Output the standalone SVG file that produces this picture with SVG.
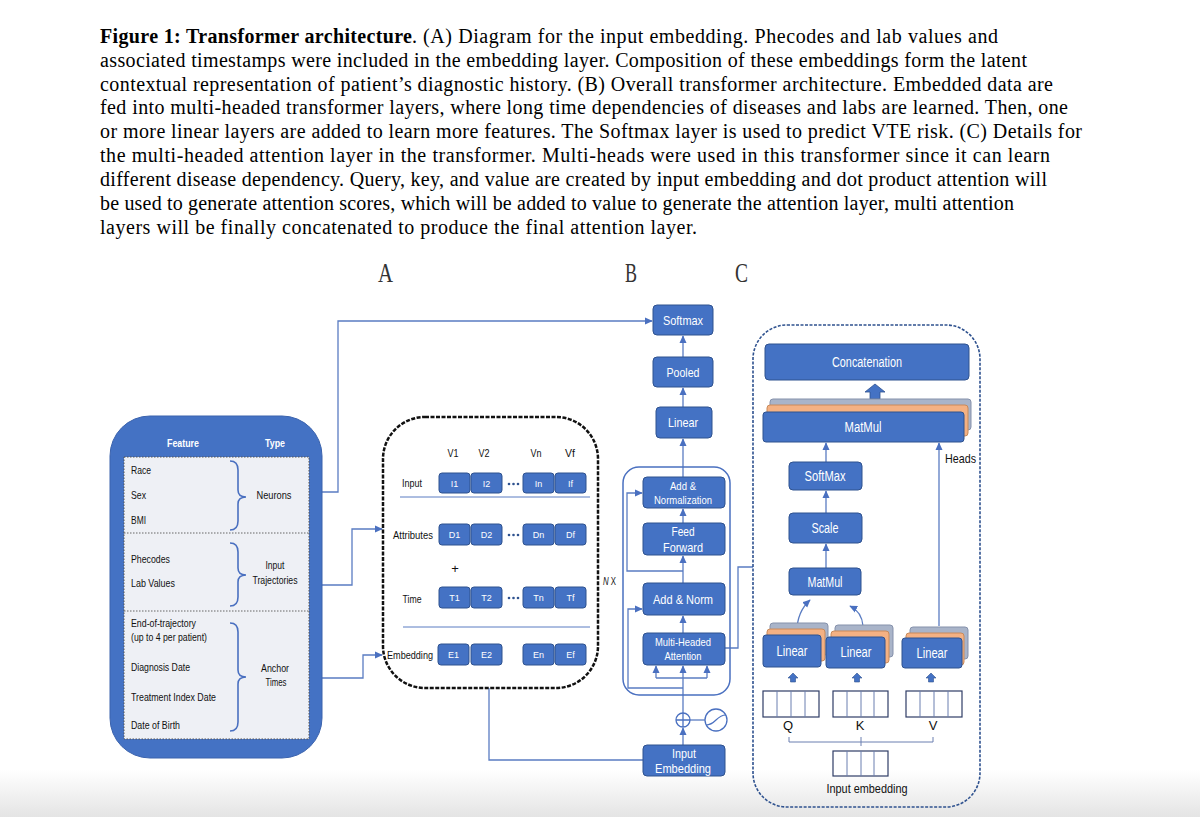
<svg xmlns="http://www.w3.org/2000/svg" width="1200" height="817" viewBox="0 0 1200 817">
<defs>
<linearGradient id="bg" x1="0" y1="0" x2="0" y2="1"><stop offset="0" stop-color="#ffffff"/><stop offset="1" stop-color="#e4e4e4"/></linearGradient>
<marker id="ah" viewBox="0 0 10 10" refX="9" refY="5" markerWidth="8" markerHeight="8" markerUnits="userSpaceOnUse" orient="auto"><path d="M0,0.5 L10,5 L0,9.5 z" fill="#4a70c0"/></marker>
</defs>
<style>
.cap{font-family:"Liberation Serif","Times New Roman",serif;font-size:20px;fill:#000}
.lt{font-family:"Liberation Serif",serif;font-size:27px;fill:#333}
.box{fill:#4472C4;stroke:#2F528F;stroke-width:1}
.wt{font-family:"Liberation Sans",Arial,sans-serif;fill:#fff;text-anchor:middle}
.bt{font-family:"Liberation Sans",Arial,sans-serif;fill:#111}
.ln{fill:none;stroke:#5a7cc2;stroke-width:1.3}
.arr{fill:none;stroke:#5a7cc2;stroke-width:1.3;marker-end:url(#ah)}
.brace{fill:none;stroke:#4a70c0;stroke-width:1.6}
.gray{fill:#a9b4c9;stroke:#8591ab}
.orng{fill:#f4b183;stroke:#c98a5a}
.vec{fill:#fff;stroke:#2f3d66;stroke-width:1.2}
.cell{stroke:#6b7fb0;stroke-width:1}
</style>
<rect x="0" y="0" width="1200" height="817" fill="#fff"/>
<rect x="0" y="770" width="1200" height="47" fill="url(#bg)"/>

<g id="caption">
<text class="cap" x="100" y="43" font-weight="bold" textLength="312" lengthAdjust="spacing">Figure 1: Transformer architecture</text>
<text class="cap" x="412" y="43" textLength="586" lengthAdjust="spacing">. (A) Diagram for the input embedding. Phecodes and lab values and</text>
<text class="cap" x="100" y="67" textLength="927" lengthAdjust="spacing">associated timestamps were included in the embedding layer. Composition of these embeddings form the latent</text>
<text class="cap" x="100" y="91" textLength="953" lengthAdjust="spacing">contextual representation of patient’s diagnostic history. (B) Overall transformer architecture. Embedded data are</text>
<text class="cap" x="100" y="114" textLength="968" lengthAdjust="spacing">fed into multi-headed transformer layers, where long time dependencies of diseases and labs are learned. Then, one</text>
<text class="cap" x="100" y="138" textLength="982" lengthAdjust="spacing">or more linear layers are added to learn more features. The Softmax layer is used to predict VTE risk. (C) Details for</text>
<text class="cap" x="100" y="162" textLength="950" lengthAdjust="spacing">the multi-headed attention layer in the transformer. Multi-heads were used in this transformer since it can learn</text>
<text class="cap" x="100" y="186" textLength="947" lengthAdjust="spacing">different disease dependency. Query, key, and value are created by input embedding and dot product attention will</text>
<text class="cap" x="100" y="210" textLength="914" lengthAdjust="spacing">be used to generate attention scores, which will be added to value to generate the attention layer, multi attention</text>
<text class="cap" x="100" y="234" textLength="597" lengthAdjust="spacing">layers will be finally concatenated to produce the final attention layer.</text>
</g>

<g id="panel-letters">
<text class="lt" x="378" y="282" textLength="15" lengthAdjust="spacingAndGlyphs">A</text>
<text class="lt" x="625" y="282" textLength="12" lengthAdjust="spacingAndGlyphs">B</text>
<text class="lt" x="735" y="282" textLength="13" lengthAdjust="spacingAndGlyphs">C</text>
</g>

<g id="connectors">
<path class="arr" d="M322 492 L338 492 L338 321 L652 321"/>
<path class="arr" d="M322 585 L352 585 L352 529 L382 529"/>
<path class="arr" d="M322 678 L363 678 L363 655 L382 655"/>
<path class="ln" d="M489 688 L489 760 L643 760"/>
<path class="arr" d="M683 357 L683 336"/>
<path class="arr" d="M683 407 L683 388"/>
<path class="arr" d="M683 477 L683 439"/>
<path class="arr" d="M683 523 L683 509"/>
<path class="arr" d="M683 583 L683 556"/>
<path class="arr" d="M683 633 L683 616"/>
<path class="arr" d="M683 713 L683 666"/>
<path class="arr" d="M683 745 L683 728"/>
<path class="ln" d="M656 678 L707 678"/>
<path class="arr" d="M656 678 L656 666"/>
<path class="arr" d="M707 678 L707 666"/>
<path class="arr" d="M683 688 L628 688 L628 609 L642 609"/>
<path class="arr" d="M683 571 L627 571 L627 493 L642 493"/>
<path class="ln" d="M725 648 L738 648 L738 567 L753 567"/>
<path class="ln" d="M690 720 L705 720"/>
<path class="arr" d="M826 462 L826 443"/>
<path class="arr" d="M826 513 L826 491"/>
<path class="arr" d="M826 568 L826 544"/>
<path class="arr" d="M939 626 L939 443"/>
<path class="arr" d="M797 631 Q797 612 810 600"/>
<path class="arr" d="M863 626 Q862 612 850 606"/>
</g>

<g id="panelA">
<rect x="110" y="416" width="212" height="342" rx="40" fill="#4472C4" stroke="#3a62ad"/>
<text class="wt" x="183" y="447" font-size="11.5" font-weight="bold" textLength="32" lengthAdjust="spacingAndGlyphs">Feature</text>
<text class="wt" x="275" y="447" font-size="11.5" font-weight="bold" textLength="20" lengthAdjust="spacingAndGlyphs">Type</text>
<rect x="124" y="457" width="185" height="282" fill="#eef0f5" stroke="#555" stroke-dasharray="1.5 1.5"/>
<line x1="124" y1="533" x2="309" y2="533" stroke="#666" stroke-dasharray="1.5 1.5"/>
<line x1="124" y1="611" x2="309" y2="611" stroke="#666" stroke-dasharray="1.5 1.5"/>
<g id="row-neurons">
<text class="bt" x="131" y="474" font-size="11" textLength="20" lengthAdjust="spacingAndGlyphs">Race</text>
<text class="bt" x="131" y="499" font-size="11" textLength="15" lengthAdjust="spacingAndGlyphs">Sex</text>
<text class="bt" x="131" y="524" font-size="11" textLength="15" lengthAdjust="spacingAndGlyphs">BMI</text>
<path class="brace" d="M230 461 Q238 461 238 470 L238 490 Q238 497 246 497 Q238 497 238 504 L238 521 Q238 530 230 530"/>
<text class="bt" x="274" y="499" font-size="11" text-anchor="middle" textLength="35" lengthAdjust="spacingAndGlyphs">Neurons</text>
</g>
<g id="row-trajectories">
<text class="bt" x="131" y="563" font-size="11" textLength="39" lengthAdjust="spacingAndGlyphs">Phecodes</text>
<text class="bt" x="131" y="587" font-size="11" textLength="44" lengthAdjust="spacingAndGlyphs">Lab Values</text>
<path class="brace" d="M230 543 Q238 543 238 552 L238 568 Q238 575 246 575 Q238 575 238 582 L238 597 Q238 606 230 606"/>
<text class="bt" x="275" y="569" font-size="11" text-anchor="middle" textLength="19" lengthAdjust="spacingAndGlyphs">Input</text>
<text class="bt" x="275" y="584" font-size="11" text-anchor="middle" textLength="45" lengthAdjust="spacingAndGlyphs">Trajectories</text>
</g>
<g id="row-anchor">
<text class="bt" x="131" y="627" font-size="11" textLength="65" lengthAdjust="spacingAndGlyphs">End-of-trajectory</text>
<text class="bt" x="131" y="641" font-size="11" textLength="76" lengthAdjust="spacingAndGlyphs">(up to 4 per patient)</text>
<text class="bt" x="131" y="671" font-size="11" textLength="59" lengthAdjust="spacingAndGlyphs">Diagnosis Date</text>
<text class="bt" x="131" y="701" font-size="11" textLength="85" lengthAdjust="spacingAndGlyphs">Treatment Index Date</text>
<text class="bt" x="131" y="729" font-size="11" textLength="49" lengthAdjust="spacingAndGlyphs">Date of Birth</text>
<path class="brace" d="M230 623 Q238 623 238 632 L238 670 Q238 677 246 677 Q238 677 238 684 L238 722 Q238 731 230 731"/>
<text class="bt" x="275" y="672" font-size="11" text-anchor="middle" textLength="28" lengthAdjust="spacingAndGlyphs">Anchor</text>
<text class="bt" x="276" y="686" font-size="11" text-anchor="middle" textLength="21" lengthAdjust="spacingAndGlyphs">Times</text>
</g>
</g>

<g id="embedding-box">
<rect x="383" y="417" width="215" height="271" rx="42" fill="#fff" stroke="#111" stroke-width="2.5" stroke-dasharray="4 1.5"/>
<text class="bt" x="453" y="457" font-size="10" text-anchor="middle" textLength="11" lengthAdjust="spacingAndGlyphs">V1</text>
<text class="bt" x="484" y="457" font-size="10" text-anchor="middle" textLength="11" lengthAdjust="spacingAndGlyphs">V2</text>
<text class="bt" x="536" y="457" font-size="10" text-anchor="middle" textLength="11" lengthAdjust="spacingAndGlyphs">Vn</text>
<text class="bt" x="570" y="457" font-size="10" text-anchor="middle" textLength="10" lengthAdjust="spacingAndGlyphs">Vf</text>
<line x1="400" y1="497" x2="590" y2="497" stroke="#5a7cc2"/>
<line x1="403" y1="627" x2="590" y2="627" stroke="#5a7cc2"/>
<text class="bt" x="455" y="573" font-size="13" text-anchor="middle">+</text>
<g id="row-input">
<text class="bt" x="412" y="487" font-size="10.5" text-anchor="middle" textLength="20" lengthAdjust="spacingAndGlyphs">Input</text>
<rect class="box" x="439" y="473" width="31" height="20" rx="3"/><text class="wt" x="454.5" y="486.5" font-size="9">I1</text>
<rect class="box" x="471" y="473" width="31" height="20" rx="3"/><text class="wt" x="486.5" y="486.5" font-size="9">I2</text>
<circle cx="509" cy="484" r="1.3" fill="#2F528F"/><circle cx="513.5" cy="484" r="1.3" fill="#2F528F"/><circle cx="518" cy="484" r="1.3" fill="#2F528F"/>
<rect class="box" x="523" y="473" width="31" height="20" rx="3"/><text class="wt" x="538.5" y="486.5" font-size="9">In</text>
<rect class="box" x="555" y="473" width="31" height="20" rx="3"/><text class="wt" x="570.5" y="486.5" font-size="9">If</text>
</g>
<g id="row-attributes">
<text class="bt" x="413" y="539" font-size="10.5" text-anchor="middle" textLength="40" lengthAdjust="spacingAndGlyphs">Attributes</text>
<rect class="box" x="439" y="524" width="31" height="21" rx="3"/><text class="wt" x="454.5" y="538" font-size="9">D1</text>
<rect class="box" x="471" y="524" width="31" height="21" rx="3"/><text class="wt" x="486.5" y="538" font-size="9">D2</text>
<circle cx="509" cy="535" r="1.3" fill="#2F528F"/><circle cx="513.5" cy="535" r="1.3" fill="#2F528F"/><circle cx="518" cy="535" r="1.3" fill="#2F528F"/>
<rect class="box" x="523" y="524" width="31" height="21" rx="3"/><text class="wt" x="538.5" y="538" font-size="9">Dn</text>
<rect class="box" x="555" y="524" width="31" height="21" rx="3"/><text class="wt" x="570.5" y="538" font-size="9">Df</text>
</g>
<g id="row-time">
<text class="bt" x="412" y="603" font-size="10.5" text-anchor="middle" textLength="19" lengthAdjust="spacingAndGlyphs">Time</text>
<rect class="box" x="439" y="587" width="31" height="21" rx="3"/><text class="wt" x="454.5" y="601" font-size="9">T1</text>
<rect class="box" x="471" y="587" width="31" height="21" rx="3"/><text class="wt" x="486.5" y="601" font-size="9">T2</text>
<circle cx="509" cy="598" r="1.3" fill="#2F528F"/><circle cx="513.5" cy="598" r="1.3" fill="#2F528F"/><circle cx="518" cy="598" r="1.3" fill="#2F528F"/>
<rect class="box" x="523" y="587" width="31" height="21" rx="3"/><text class="wt" x="538.5" y="601" font-size="9">Tn</text>
<rect class="box" x="555" y="587" width="31" height="21" rx="3"/><text class="wt" x="570.5" y="601" font-size="9">Tf</text>
</g>
<g id="row-embedding">
<text class="bt" x="410" y="659" font-size="10.5" text-anchor="middle" textLength="46" lengthAdjust="spacingAndGlyphs">Embedding</text>
<rect class="box" x="438" y="644" width="31" height="21" rx="3"/><text class="wt" x="453.5" y="658" font-size="9">E1</text>
<rect class="box" x="471" y="644" width="31" height="21" rx="3"/><text class="wt" x="486.5" y="658" font-size="9">E2</text>
<rect class="box" x="523" y="644" width="31" height="21" rx="3"/><text class="wt" x="538.5" y="658" font-size="9">En</text>
<rect class="box" x="555" y="644" width="31" height="21" rx="3"/><text class="wt" x="570.5" y="658" font-size="9">Ef</text>
</g>
</g>

<g id="nx-label"><text class="bt" x="603" y="585" font-size="10.5" textLength="13" lengthAdjust="spacingAndGlyphs"><tspan font-style="italic">N</tspan> X</text></g>

<g id="panelB">
<g id="softmax"><rect class="box" x="653" y="305" width="60" height="30" rx="4"/><text class="wt" x="683" y="325" font-size="13" textLength="40" lengthAdjust="spacingAndGlyphs">Softmax</text></g>
<g id="pooled"><rect class="box" x="653" y="357" width="60" height="30" rx="4"/><text class="wt" x="683" y="377" font-size="13" textLength="33" lengthAdjust="spacingAndGlyphs">Pooled</text></g>
<g id="linear"><rect class="box" x="656" y="407" width="56" height="31" rx="4"/><text class="wt" x="683" y="427" font-size="13" textLength="30" lengthAdjust="spacingAndGlyphs">Linear</text></g>
<rect id="encoder-block" x="623" y="467" width="107" height="228" rx="16" fill="none" stroke="#4a70c0" stroke-width="1.5"/>
<g id="add-normalization"><rect class="box" x="643" y="477" width="82" height="31" rx="4"/><text class="wt" x="683" y="490" font-size="11" textLength="26" lengthAdjust="spacingAndGlyphs">Add &amp;</text><text class="wt" x="683" y="504" font-size="11" textLength="58" lengthAdjust="spacingAndGlyphs">Normalization</text></g>
<g id="feed-forward"><rect class="box" x="643" y="523" width="82" height="32" rx="4"/><text class="wt" x="683" y="536" font-size="13" textLength="23" lengthAdjust="spacingAndGlyphs">Feed</text><text class="wt" x="683" y="552" font-size="13" textLength="40" lengthAdjust="spacingAndGlyphs">Forward</text></g>
<g id="add-norm"><rect class="box" x="643" y="583" width="82" height="32" rx="4"/><text class="wt" x="683" y="604" font-size="13" textLength="60" lengthAdjust="spacingAndGlyphs">Add &amp; Norm</text></g>
<g id="multi-headed-attention"><rect class="box" x="643" y="633" width="82" height="32" rx="4"/><text class="wt" x="683" y="646" font-size="11" textLength="56" lengthAdjust="spacingAndGlyphs">Multi-Headed</text><text class="wt" x="683" y="660" font-size="11" textLength="37" lengthAdjust="spacingAndGlyphs">Attention</text></g>
<g id="pos-add"><circle cx="683" cy="720" r="7" fill="#fff" stroke="#4a70c0" stroke-width="1.3"/><path d="M676 720 L690 720 M683 713 L683 727" stroke="#4a70c0" stroke-width="1.3"/></g>
<g id="pos-encoding"><circle cx="716" cy="720" r="11" fill="#fff" stroke="#4a70c0" stroke-width="1.3"/><path d="M706 725 Q711 725 716 720 Q721 715 726 715" fill="none" stroke="#4a70c0" stroke-width="1.2"/></g>
<g id="input-embedding"><rect class="box" x="643" y="745" width="82" height="31" rx="4"/><text class="wt" x="684" y="758" font-size="13" textLength="24" lengthAdjust="spacingAndGlyphs">Input</text><text class="wt" x="683" y="773" font-size="13" textLength="56" lengthAdjust="spacingAndGlyphs">Embedding</text></g>
</g>

<g id="panelC">
<rect x="753" y="325" width="227" height="482" rx="34" fill="none" stroke="#2F528F" stroke-width="1.6" stroke-dasharray="3 1.5"/>
<g id="concatenation"><rect class="box" x="765" y="344" width="204" height="36" rx="4"/><text class="wt" x="867" y="367" font-size="14" textLength="70" lengthAdjust="spacingAndGlyphs">Concatenation</text></g>
<polygon points="875,384 885,392 880,392 880,399 870,399 870,392 865,392" fill="#4472C4" stroke="#2F528F" stroke-width="0.8"/>
<g id="matmul-heads">
<rect class="gray" x="770" y="399" width="201" height="31" rx="3"/>
<rect class="orng" x="767" y="405" width="201" height="31" rx="3"/>
<rect class="box" x="763" y="412" width="201" height="30" rx="3"/>
<text class="wt" x="863" y="432" font-size="14" textLength="37" lengthAdjust="spacingAndGlyphs">MatMul</text>
</g>
<text class="bt" x="945" y="463" font-size="13" textLength="31" lengthAdjust="spacingAndGlyphs">Heads</text>
<g id="softmax-c"><rect class="box" x="789" y="462" width="73" height="28" rx="4"/><text class="wt" x="825" y="481" font-size="14" textLength="41" lengthAdjust="spacingAndGlyphs">SoftMax</text></g>
<g id="scale"><rect class="box" x="789" y="513" width="73" height="30" rx="4"/><text class="wt" x="825" y="533" font-size="14" textLength="27" lengthAdjust="spacingAndGlyphs">Scale</text></g>
<g id="matmul-qk"><rect class="box" x="789" y="568" width="72" height="27" rx="4"/><text class="wt" x="825" y="587" font-size="14" textLength="35" lengthAdjust="spacingAndGlyphs">MatMul</text></g>
<g id="linear-q">
<rect class="gray" x="770" y="623" width="58" height="32" rx="3"/>
<rect class="orng" x="767" y="629" width="58" height="32" rx="3"/>
<rect class="box" x="763" y="635" width="58" height="32" rx="3"/>
<text class="wt" x="792" y="656" font-size="14" textLength="31" lengthAdjust="spacingAndGlyphs">Linear</text>
</g>
<g id="linear-k">
<rect class="gray" x="835" y="625" width="58" height="32" rx="3"/>
<rect class="orng" x="831" y="631" width="58" height="32" rx="3"/>
<rect class="box" x="826" y="637" width="59" height="31" rx="3"/>
<text class="wt" x="856" y="657" font-size="14" textLength="31" lengthAdjust="spacingAndGlyphs">Linear</text>
</g>
<g id="linear-v">
<rect class="gray" x="910" y="627" width="58" height="32" rx="3"/>
<rect class="orng" x="906" y="633" width="58" height="32" rx="3"/>
<rect class="box" x="902" y="638" width="60" height="30" rx="3"/>
<text class="wt" x="932" y="658" font-size="14" textLength="31" lengthAdjust="spacingAndGlyphs">Linear</text>
</g>
<g id="up-arrows" fill="#4472C4" stroke="#2F528F" stroke-width="0.6">
<polygon points="793,673 798,678 795.5,678 795.5,682 790.5,682 790.5,678 788,678"/>
<polygon points="857,673 862,678 859.5,678 859.5,682 854.5,682 854.5,678 852,678"/>
<polygon points="931,673 936,678 933.5,678 933.5,682 928.5,682 928.5,678 926,678"/>
</g>
<g id="vec-q"><rect class="vec" x="763" y="691" width="56" height="26"/><path class="cell" d="M777 691 V717 M791 691 V717 M805 691 V717"/><text class="bt" x="788" y="730" font-size="13" text-anchor="middle">Q</text></g>
<g id="vec-k"><rect class="vec" x="833" y="691" width="55" height="26"/><path class="cell" d="M847 691 V717 M861 691 V717 M874 691 V717"/><text class="bt" x="860" y="730" font-size="13" text-anchor="middle">K</text></g>
<g id="vec-v"><rect class="vec" x="906" y="691" width="56" height="26"/><path class="cell" d="M920 691 V717 M934 691 V717 M948 691 V717"/><text class="bt" x="933" y="730" font-size="13" text-anchor="middle">V</text></g>
<path d="M789 737 L789 742 L933 742 L933 737 M861 737 L861 746" fill="none" stroke="#6b7fb0" stroke-width="1"/>
<g id="vec-input"><rect class="vec" x="833" y="751" width="55" height="25"/><path class="cell" d="M847 751 V776 M861 751 V776 M874 751 V776"/><text class="bt" x="867" y="793" font-size="13" text-anchor="middle" textLength="81" lengthAdjust="spacingAndGlyphs">Input embedding</text></g>
</g>
</svg>
